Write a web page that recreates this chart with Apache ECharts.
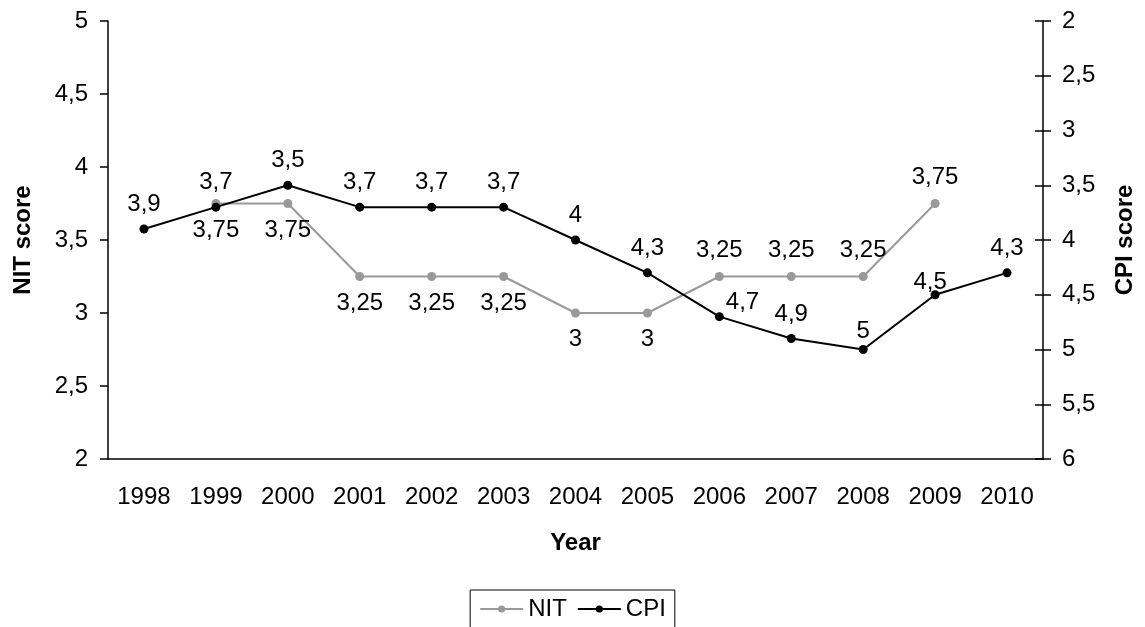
<!DOCTYPE html>
<html>
<head>
<meta charset="utf-8">
<script src="https://cdn.jsdelivr.net/npm/echarts@6/dist/echarts.min.js"></script>
<style>
  html, body { margin: 0; padding: 0; background: #fff; }
  #chart { width: 1145px; height: 627px; }
</style>
</head>
<body>
<div id="chart"></div>
<script>
const years = ['1998', '1999', '2000', '2001', '2002', '2003', '2004', '2005', '2006', '2007', '2008', '2009', '2010']
const nitScores = [null, 3.75, 3.75, 3.25, 3.25, 3.25, 3, 3, 3.25, 3.25, 3.25, 3.75, null]
const cpiScores = [3.9, 3.7, 3.5, 3.7, 3.7, 3.7, 4, 4.3, 4.7, 4.9, 5, 4.5, 4.3]
// which NIT labels sit above the point (the rest go below)
const nitLabelAbove = [false, false, false, false, false, false, false, false, true, true, true, true, false]

const comma = (v) => String(v).replace('.', ',')
const font = 'Liberation Sans, Arial, sans-serif'
const fs = 24

let myChart = echarts.init(document.getElementById('chart'))

const nitData = nitScores.map((v, i) => ({
    value: v,
    label: {position: nitLabelAbove[i] ? 'top' : 'bottom'}
}))

const cpiData = cpiScores.map((v, i) => {
    let d = {value: v}
    if (years[i] === '2006') d.label = {position: 'right', offset: [-6, -14]}
    if (years[i] === '2009') d.label = {offset: [-5, 12]}
    if (years[i] === '2008') d.label = {distance: 2}
    return d
})

myChart.setOption({
    animation: false,
    textStyle: {fontFamily: font},
    grid: {
        left: 108,
        right: 98,
        top: 21,
        bottom: 168,
        containLabel: false
    },
    legend: {
        left: 'center',
        top: 590,
        padding: [7, 9, 7, 9],
        itemGap: 10,
        itemWidth: 43,
        itemHeight: 9,
        borderColor: '#000',
        borderWidth: 1,
        textStyle: {color: '#000', fontSize: fs, fontFamily: font},
        data: ['NIT', 'CPI']
    },
    xAxis: {
        type: 'category',
        data: years,
        boundaryGap: true,
        name: 'Year',
        nameLocation: 'middle',
        nameGap: 72,
        nameTextStyle: {color: '#000', fontSize: fs, fontWeight: 'bold'},
        axisLine: {lineStyle: {color: '#000', width: 1.5}},
        axisTick: {length: 8, lineStyle: {color: '#000', width: 1.5}},
        axisLabel: {color: '#000', fontSize: fs, margin: 26, interval: 0},
        splitLine: {show: false}
    },
    yAxis: [
        {
            type: 'value',
            min: 2,
            max: 5,
            interval: 0.5,
            name: 'NIT score',
            nameLocation: 'middle',
            nameRotate: 90,
            nameGap: 73,
            nameTextStyle: {color: '#000', fontSize: fs, fontWeight: 'bold'},
            axisLine: {show: true, lineStyle: {color: '#000', width: 1.5}},
            axisTick: {show: true, length: 8, lineStyle: {color: '#000', width: 1.5}},
            axisLabel: {color: '#000', fontSize: fs, margin: 20, formatter: comma},
            splitLine: {show: false}
        },
        {
            type: 'value',
            position: 'right',
            inverse: true,
            min: 2,
            max: 6,
            interval: 0.5,
            name: 'CPI score',
            nameLocation: 'middle',
            nameRotate: 90,
            nameGap: 70,
            nameTextStyle: {color: '#000', fontSize: fs, fontWeight: 'bold'},
            axisLine: {show: true, lineStyle: {color: '#000', width: 1.5}},
            axisTick: {show: true, length: 8, lineStyle: {color: '#000', width: 1.5}},
            axisLabel: {color: '#000', fontSize: fs, margin: 19, formatter: comma},
            splitLine: {show: false}
        },
        {
            // inner half of the crossing ticks on the CPI axis
            type: 'value',
            position: 'right',
            inverse: true,
            min: 2,
            max: 6,
            interval: 0.5,
            axisLine: {show: false},
            axisTick: {show: true, inside: true, length: 8, lineStyle: {color: '#000', width: 1.5}},
            axisLabel: {show: false},
            splitLine: {show: false}
        }
    ],
    series: [
        {
            name: 'NIT',
            type: 'line',
            yAxisIndex: 0,
            data: nitData,
            symbol: 'circle',
            symbolSize: 9,
            color: '#999999',
            lineStyle: {color: '#999999', width: 2},
            itemStyle: {color: '#999999'},
            label: {
                show: true,
                color: '#000',
                fontSize: fs,
                distance: 10,
                formatter: (p) => comma(p.value)
            }
        },
        {
            name: 'CPI',
            type: 'line',
            yAxisIndex: 1,
            data: cpiData,
            symbol: 'circle',
            symbolSize: 9,
            color: '#000000',
            lineStyle: {color: '#000', width: 2},
            itemStyle: {color: '#000'},
            label: {
                show: true,
                position: 'top',
                color: '#000',
                fontSize: fs,
                distance: 8,
                formatter: (p) => comma(p.value)
            }
        }
    ]
})
</script>
</body>
</html>
